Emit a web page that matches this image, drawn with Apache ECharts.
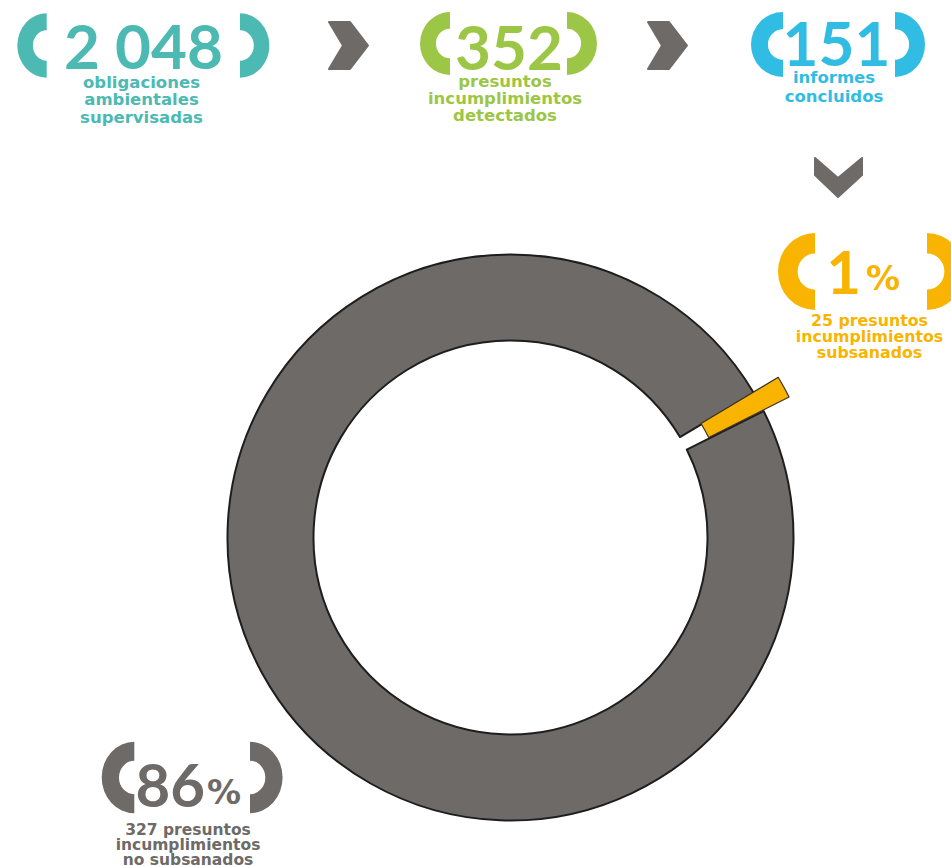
<!DOCTYPE html>
<html><head><meta charset="utf-8">
<script src="https://cdn.jsdelivr.net/npm/echarts@6/dist/echarts.min.js"></script>
<style>html,body{margin:0;padding:0;background:#fff}#c{width:951px;height:866px}</style>
</head><body><div id="c"></div>
<script>
// ---- data ----
const ringCategories = ['presuntos incumplimientos subsanados', 'presuntos incumplimientos no subsanados'];
const ringValues = [1, 86];           // percentages shown
const ringCounts = [25, 327];
const headlineValues = ['2 048', '352', '151'];
const headlineLabels = [
  ['obligaciones', 'ambientales', 'supervisadas'],
  ['presuntos', 'incumplimientos', 'detectados'],
  ['informes', 'concluidos']
];
const resultPercents = ['1', '86'];
const resultLabels = [
  ['25 presuntos', 'incumplimientos', 'subsanados'],
  ['327 presuntos', 'incumplimientos', 'no subsanados']
];

// ---- style ----
const TEAL = '#4cbab2', GREEN = '#9cc645', BLUE = '#31bde3', YELLOW = '#f8b400', GRAY = '#6d6a67';
const NUMFONT = 'Lato';
const LBLFONT = 'DejaVu Sans';

const chart = echarts.init(document.getElementById('c'), null, {renderer: 'svg'});

function bracket(cx, cy, rx, ry, side, color) {
  return {
    type: 'sector', silent: true, x: cx, y: cy, scaleX: rx / ry,
    shape: side === 'left'
      ? {cx: 0, cy: 0, r0: ry * 0.47, r: ry, startAngle: Math.PI / 2, endAngle: Math.PI * 1.5, clockwise: true}
      : {cx: 0, cy: 0, r0: ry * 0.47, r: ry, startAngle: -Math.PI / 2, endAngle: Math.PI / 2, clockwise: true},
    style: {fill: color}
  };
}
function txt(s, x, y, size, color, family, align) {
  return {type: 'text', silent: true, x: x, y: y,
    style: {text: s, fill: color, fontSize: size, fontFamily: family, fontWeight: 'bold',
      align: align || 'center', verticalAlign: 'middle'}};
}
function lines(arr, x, y0, lh, size, color) {
  return arr.map((s, i) => txt(s, x, y0 + i * lh, size, color, LBLFONT));
}
function chevron(pts) {
  return {type: 'polygon', silent: true, shape: {points: pts}, style: {fill: GRAY, lineJoin: 'round', stroke: GRAY, lineWidth: 2}};
}

const graphics = [].concat(
  // group 1
  [bracket(46.7, 45.5, 29.4, 32.2, 'left', TEAL), bracket(240, 45.5, 29.4, 32.2, 'right', TEAL),
   txt(headlineValues[0], 143.5, 45, 62, TEAL, NUMFONT)],
  lines(headlineLabels[0], 141.5, 82, 17.5, 16.5, TEAL),
  // chevron 1
  [chevron([[329,22],[350,22],[368,45.5],[350,69],[329,69],[343,45.5]])],
  // group 2
  [bracket(450, 43.5, 30, 31.5, 'left', GREEN), bracket(567, 43.5, 30, 31.5, 'right', GREEN),
   txt(headlineValues[1], 509, 46, 62, GREEN, NUMFONT)],
  lines(headlineLabels[1], 505, 81, 17, 16.5, GREEN),
  // chevron 2
  [chevron([[648,22],[669,22],[687,45.5],[669,69],[648,69],[662,45.5]])],
  // group 3
  [bracket(783, 44.5, 32, 32.5, 'left', BLUE), bracket(895, 44.5, 30, 32.5, 'right', BLUE),
   txt(headlineValues[2], 836.5, 42, 62, BLUE, NUMFONT)],
  lines(headlineLabels[2], 834, 77, 19.5, 16.5, BLUE),
  // down chevron
  [chevron([[815,158],[838,178],[862,158],[862,175],[838,197],[815,175]])],
  // group 4 (1%)
  [bracket(815, 271.5, 37, 38.5, 'left', YELLOW), bracket(927, 271.5, 37, 38.5, 'right', YELLOW),
   txt(resultPercents[0], 861, 271, 60, YELLOW, NUMFONT, 'right'),
   txt('%', 866, 278, 34, YELLOW, LBLFONT, 'left')],
  lines(resultLabels[0], 869.5, 320, 16, 15.8, YELLOW),
  // group 5 (86%)
  [bracket(134.3, 777.5, 32.6, 35.7, 'left', GRAY), bracket(250, 777.5, 32.6, 35.7, 'right', GRAY),
   txt(resultPercents[1], 205, 784, 60, GRAY, NUMFONT, 'right'),
   txt('%', 207, 792, 34, GRAY, LBLFONT, 'left')],
  lines(resultLabels[1], 188, 830, 15, 15.5, GRAY)
);

const option = {
  animation: false,
  tooltip: {show: false},
  series: [
    {
      type: 'pie', silent: true, center: [510.5, 537.5], radius: [197, 283],
      startAngle: 30.66, label: {show: false}, labelLine: {show: false},
      emphasis: {disabled: true},
      data: ringCategories.map((n, i) => ({
        name: n, value: ringValues[i],
        itemStyle: i === 0 ? {color: 'rgba(0,0,0,0)', borderWidth: 0}
                           : {color: GRAY, borderColor: '#1e1e1e', borderWidth: 2}
      }))
    },
    {
      type: 'pie', silent: true, center: [510.5, 537.5], radius: [222, 312],
      startAngle: 30.9, label: {show: false}, labelLine: {show: false},
      emphasis: {disabled: true}, z: 3,
      data: ringCategories.map((n, i) => ({
        name: n, value: ringValues[i],
        itemStyle: i === 0 ? {color: YELLOW, borderColor: '#3a3020', borderWidth: 1.2}
                           : {color: 'rgba(0,0,0,0)', borderWidth: 0}
      }))
    }
  ],
  graphic: {elements: graphics}
};
chart.setOption(option);
</script>
</body></html>
